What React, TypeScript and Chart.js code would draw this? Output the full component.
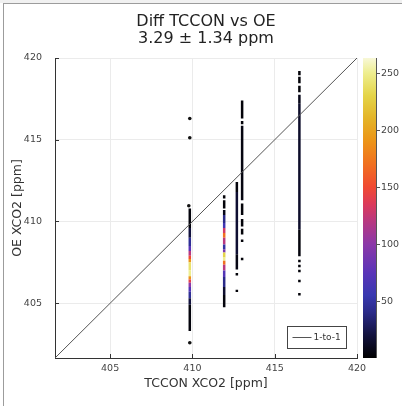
import { useEffect, useRef } from "react";
import { Chart, registerables } from "chart.js";

Chart.register(...registerables);

const AXIS_MIN = 401.65;
const AXIS_MAX = 420;
const axisTicks = [405, 410, 415, 420];
const colorbarTicks = [50, 100, 150, 200, 250];
const COLORBAR_MAX = 263;

const titleLines = ["Diff TCCON vs OE", "3.29 ± 1.34 ppm"];
const xTitle = "TCCON XCO2 [ppm]";
const yTitle = "OE XCO2 [ppm]";
const refLabel = "1-to-1";

// TCCON value of each station column
const columnX = [409.84, 411.93, 412.7, 413.02, 416.5];

// OE values at break points down each column; the run between two break
// points takes the point density listed for it (null = no retrievals there)
const col1Y = [410.8, 409.6, 409.0, 408.5, 408.2, 407.9, 407.7, 407.5, 407.0, 406.65, 406.45, 406.25, 406.0, 405.7, 405.3, 404.9, 403.3];
const col1D = [4, 20, 45, 75, 120, 150, 190, 240, 250, 190, 140, 100, 70, 45, 20, 4];

const col2Y = [411.6, 411.4, 411.3, 410.8, 410.7, 410.4, 409.9, 409.6, 409.3, 409.0, 408.6, 408.3, 408.1, 407.8, 407.6, 407.35, 407.0, 406.6, 406.0, 405.5, 404.75];
const col2D = [3, null, 3, null, 8, 40, 60, 130, 170, 120, 50, 90, 230, 250, 170, 120, 70, 40, 15, 4];

const col3Y = [412.42, 411.8, 408.0, 407.07, 406.85, 406.7, 405.82, 405.68];
const col3D = [4, 16, 6, null, 3, null, 3];

const col4Y = [417.4, 416.3, 416.15, 415.95, 415.85, 411.3, 411.1, 410.4, 410.15, 409.7, 409.55, 409.2, 408.9, 408.75, 407.78, 407.63];
const col4D = [3, null, 3, null, 5, null, 3, null, 3, null, 3, null, 3, null, 3];

const col5Y = [419.2, 418.95, 418.85, 418.45, 418.3, 417.9, 417.75, 417.2, 409.5, 407.88, 407.66, 407.5, 407.35, 407.2, 407.05, 406.9, 406.44, 406.28, 405.63, 405.47];
const col5D = [3, null, 3, null, 3, null, 8, 14, 4, null, 3, null, 3, null, 3, null, 3, null, 3];

const columnsY = [col1Y, col2Y, col3Y, col4Y, col5Y];
const columnsD = [col1D, col2D, col3D, col4D, col5D];

// isolated retrievals
const loneX = [409.84, 409.84, 409.78, 409.84];
const loneY = [416.3, 415.12, 410.96, 402.58];

// colour scale: density -> colour
const cmapStops = [0, 20, 40, 55, 75, 100, 120, 135, 150, 170, 190, 210, 230, 250, 263];
const cmapColors = [
  "#000000", "#12123e", "#2a2a88", "#3838b0", "#5a34b8", "#8c38a8", "#b83880",
  "#dc3a5a", "#f04a32", "#f07020", "#ec9418", "#e4b428", "#e4d448", "#eeee90", "#f8f8d8",
];

function hexToRgb(h: string): number[] {
  const n = parseInt(h.slice(1), 16);
  return [(n >> 16) & 255, (n >> 8) & 255, n & 255];
}

function densityColor(d: number): string {
  if (d <= cmapStops[0]) return cmapColors[0];
  for (let i = 1; i < cmapStops.length; i++) {
    if (d <= cmapStops[i]) {
      const t = (d - cmapStops[i - 1]) / (cmapStops[i] - cmapStops[i - 1]);
      const a = hexToRgb(cmapColors[i - 1]);
      const b = hexToRgb(cmapColors[i]);
      const c = a.map((v, k) => Math.round(v + (b[k] - v) * t));
      return `rgb(${c[0]},${c[1]},${c[2]})`;
    }
  }
  return cmapColors[cmapColors.length - 1];
}

const FONT = "'DejaVu Sans', sans-serif";

const decorations = {
  id: "decorations",
  afterDraw(chart: any) {
    const { ctx, chartArea: a, scales } = chart;
    const xs = scales.x;
    const ys = scales.y;
    ctx.save();

    // outer frame
    ctx.fillStyle = "#f1f1f1";
    ctx.fillRect(0, 0, chart.width, 3);
    ctx.strokeStyle = "#9c9c9c";
    ctx.lineWidth = 1;
    ctx.beginPath();
    ctx.moveTo(3, 3.5);
    ctx.lineTo(chart.width, 3.5);
    ctx.moveTo(3.5, 3);
    ctx.lineTo(3.5, chart.height);
    ctx.stroke();

    // title
    ctx.fillStyle = "#222";
    ctx.font = `16px ${FONT}`;
    ctx.textAlign = "center";
    ctx.textBaseline = "alphabetic";
    const cx = (a.left + a.right) / 2;
    ctx.fillText(titleLines[0], cx, 25.5);
    ctx.fillText(titleLines[1], cx, 42.5);

    // inward tick marks
    ctx.strokeStyle = "#333";
    ctx.beginPath();
    for (const v of axisTicks) {
      const px = Math.round(xs.getPixelForValue(v)) + 0.5;
      ctx.moveTo(px, a.bottom);
      ctx.lineTo(px, a.bottom - 4);
      const py = Math.round(ys.getPixelForValue(v)) + 0.5;
      ctx.moveTo(a.left, py);
      ctx.lineTo(a.left + 4, py);
    }
    ctx.stroke();

    // legend box
    const lx0 = 287.5, ly0 = 326.5, lw = 59, lh = 22;
    ctx.fillStyle = "#fff";
    ctx.fillRect(lx0, ly0, lw, lh);
    ctx.strokeStyle = "#444";
    ctx.strokeRect(lx0, ly0, lw, lh);
    ctx.strokeStyle = "#555";
    ctx.beginPath();
    ctx.moveTo(lx0 + 5, ly0 + lh / 2);
    ctx.lineTo(lx0 + 24, ly0 + lh / 2);
    ctx.stroke();
    ctx.fillStyle = "#333";
    ctx.font = `9px ${FONT}`;
    ctx.textAlign = "left";
    ctx.textBaseline = "middle";
    ctx.fillText(refLabel, lx0 + 26, ly0 + lh / 2 + 0.5);

    // colour bar
    const bx0 = 363, bx1 = 376;
    const grad = ctx.createLinearGradient(0, a.bottom, 0, a.top);
    for (let i = 0; i < cmapStops.length; i++) {
      grad.addColorStop(cmapStops[i] / COLORBAR_MAX, cmapColors[i]);
    }
    ctx.fillStyle = grad;
    ctx.fillRect(bx0, a.top, bx1 - bx0, a.bottom - a.top);
    ctx.strokeStyle = "#555";
    ctx.beginPath();
    ctx.moveTo(bx1 + 0.5, a.top);
    ctx.lineTo(bx1 + 0.5, a.bottom);
    ctx.stroke();
    ctx.font = `9.5px ${FONT}`;
    ctx.fillStyle = "#444";
    ctx.textAlign = "left";
    ctx.textBaseline = "middle";
    ctx.beginPath();
    for (const v of colorbarTicks) {
      const py = Math.round(a.bottom - (v / COLORBAR_MAX) * (a.bottom - a.top)) + 0.5;
      ctx.moveTo(bx1, py);
      ctx.lineTo(bx1 + 4, py);
      ctx.fillText(String(v), bx1 + 5, py);
    }
    ctx.stroke();

    ctx.restore();
  },
};

export default function App() {
  const canvasRef = useRef<HTMLCanvasElement | null>(null);

  useEffect(() => {
    const canvas = canvasRef.current;
    if (!canvas) return;

    const columnSets = columnX.map((x, i) => {
      const ys = columnsY[i];
      const ds = columnsD[i];
      return {
        type: "scatter" as const,
        label: `station ${i + 1}`,
        data: ys.map((y) => ({ x, y })),
        showLine: true,
        borderWidth: 2.5,
        borderCapStyle: "butt" as const,
        borderColor: "#000",
        pointRadius: 0,
        order: 2,
        segment: {
          borderColor: (c: any) => {
            const d = ds[c.p0DataIndex];
            return d == null ? "rgba(0,0,0,0)" : densityColor(d);
          },
        },
      };
    });

    const chart = new Chart(canvas, {
      type: "scatter",
      data: {
        datasets: [
          {
            label: refLabel,
            data: [
              { x: AXIS_MIN, y: AXIS_MIN },
              { x: AXIS_MAX, y: AXIS_MAX },
            ],
            showLine: true,
            borderColor: "#555",
            borderWidth: 1,
            pointRadius: 0,
            order: 0,
          },
          {
            label: "isolated",
            data: loneX.map((x, i) => ({ x, y: loneY[i] })),
            pointRadius: 1.8,
            backgroundColor: "#111",
            borderWidth: 0,
            order: 1,
          },
          ...columnSets,
        ],
      },
      options: {
        animation: false,
        responsive: false,
        devicePixelRatio: 1,
        events: [],
        layout: { padding: { top: 58, right: 45, left: 0, bottom: 0 } },
        plugins: {
          legend: { display: false },
          title: { display: false },
          tooltip: { enabled: false },
        },
        scales: {
          x: {
            type: "linear",
            min: AXIS_MIN,
            max: AXIS_MAX,
            afterBuildTicks: (s: any) => {
              s.ticks = axisTicks.map((v) => ({ value: v }));
            },
            afterFit: (s: any) => {
              s.height = 48;
            },
            grid: { color: "#ebebeb", drawTicks: false },
            border: { display: true, color: "#333" },
            ticks: {
              padding: 5,
              color: "#444",
              font: { family: FONT, size: 9.5 },
              callback: (v: any) => String(v),
            },
            title: {
              display: true,
              text: xTitle,
              color: "#333",
              font: { family: FONT, size: 12.5 },
              padding: { top: 0, bottom: 15 },
            },
          },
          y: {
            type: "linear",
            min: AXIS_MIN,
            max: AXIS_MAX,
            afterBuildTicks: (s: any) => {
              s.ticks = axisTicks.map((v) => ({ value: v }));
            },
            afterFit: (s: any) => {
              s.width = 55;
            },
            grid: { color: "#ebebeb", drawTicks: false },
            border: { display: true, color: "#333" },
            ticks: {
              padding: 13,
              color: "#444",
              font: { family: FONT, size: 9.5 },
              callback: (v: any) => String(v),
            },
            title: {
              display: true,
              text: yTitle,
              color: "#333",
              font: { family: FONT, size: 12.5 },
              padding: { top: 10, bottom: 0 },
            },
          },
        },
      },
      plugins: [decorations],
    });

    return () => chart.destroy();
  }, []);

  return (
    <div style={{ position: "fixed", left: 0, top: 0, width: 402, height: 406, background: "#fff" }}>
      <canvas ref={canvasRef} width={402} height={406} style={{ width: 402, height: 406, display: "block" }} />
    </div>
  );
}
